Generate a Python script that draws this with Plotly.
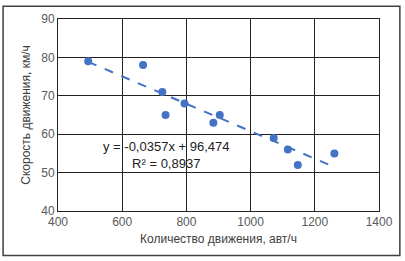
import plotly.graph_objects as go

traffic = [494, 665, 725, 735, 794, 884, 904, 1072, 1116, 1147, 1261]
speed = [79, 78, 71, 65, 68, 63, 65, 59, 56, 52, 55]
slope = -0.0357
intercept = 96.474
eq_text = "y = -0,0357x + 96,474<br>R² = 0,8937"
x_title = "Количество движения, авт/ч"
y_title = "Скорость движения, км/ч"

blue = "#4472C4"
font = "Liberation Sans, Arial, sans-serif"

x_line = [min(traffic), max(traffic)]
y_line = [slope * v + intercept for v in x_line]

fig = go.Figure()
fig.add_trace(go.Scatter(x=traffic, y=speed, mode="markers",
                         marker=dict(color=blue, size=8), showlegend=False))
fig.add_trace(go.Scatter(x=x_line, y=y_line, mode="lines",
                         line=dict(color=blue, width=2, dash="dash"), showlegend=False))

fig.add_annotation(x=735, y=54.6, xref="x", yref="y", text=eq_text, showarrow=False,
                   font=dict(family=font, size=13, color="#222222"), align="center")

axis_common = dict(showgrid=True, gridcolor="#222222", gridwidth=1, showline=True,
                   linecolor="#222222", linewidth=1, mirror=True, zeroline=False,
                   ticks="", tickfont=dict(family=font, size=12, color="#595959"))

fig.update_xaxes(range=[400, 1400], dtick=200, title=dict(text=x_title, standoff=6,
                 font=dict(family=font, size=12, color="#404040")), **axis_common)
fig.update_yaxes(range=[40, 90], dtick=10, title=dict(text=y_title, standoff=8,
                 font=dict(family=font, size=12, color="#404040")), **axis_common)

fig.add_shape(type="rect", xref="paper", yref="paper", x0=-0.171, x1=1.065, y0=-0.232, y1=1.067,
              line=dict(color="#404040", width=1.5), layer="above")

fig.update_layout(width=405, height=261, margin=dict(l=58, r=25, t=17, b=50),
                  plot_bgcolor="white", paper_bgcolor="white")

fig.write_html("out.html", config={"displayModeBar": False},
               post_script="document.body.style.margin='0';")
